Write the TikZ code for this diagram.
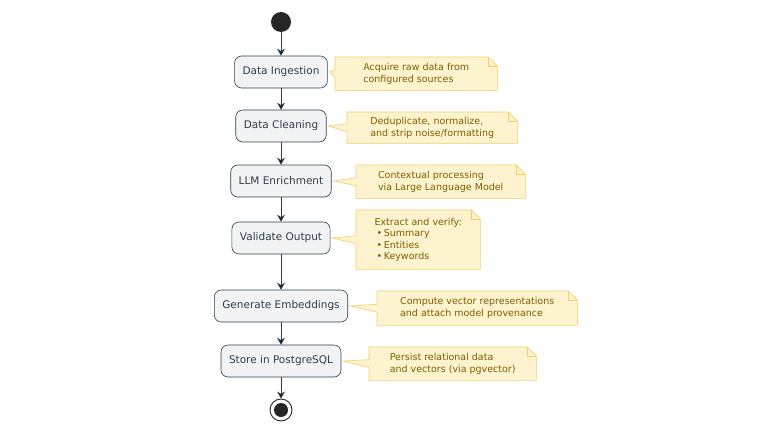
\documentclass[tikz,border=0pt]{standalone}
\usepackage{fontspec}
\setmainfont{DejaVu Sans}
\usetikzlibrary{arrows.meta,positioning,calc,backgrounds}
\definecolor{actfill}{HTML}{F1F3F4}
\definecolor{actline}{HTML}{2C3E50}
\definecolor{notefill}{HTML}{FDF3CF}
\definecolor{noteline}{HTML}{F2CF6B}
\definecolor{notetext}{HTML}{7D6000}
\begin{document}
\begin{tikzpicture}[x=1pt,y=-1pt,->,>={Stealth[length=7pt,width=8pt]},
  act/.style={rectangle,rounded corners=7pt,fill=actfill,draw=actline,line width=0.6pt,
    minimum height=32pt,inner xsep=8pt,font=\fontsize{10.5}{12}\selectfont,text=actline},
  note/.style={align=left,anchor=north west,inner xsep=6pt,inner ysep=5pt,
    font=\fontsize{9.5}{12}\selectfont,text=notetext},
  flow/.style={draw=actline,line width=0.9pt}]

\useasboundingbox (0,0) rectangle (784,441);

%start and end
\node[circle,fill=black!85,minimum size=20pt,inner sep=0pt] (start) at (281,22) {};
\node[circle,draw=black!85,line width=0.9pt,minimum size=22pt,inner sep=0pt] (stop) at (281,410) {};
\node[circle,fill=black!85,minimum size=14pt,inner sep=0pt] (stopdot) at (stop) {};

%activities
\node[act] (ingest) at (281,72) {Data Ingestion};
\node[act] (clean) at (281,126) {Data Cleaning};
\node[act] (enrich) at (281,181) {LLM Enrichment};
\node[act] (valid) at (281,238) {Validate Output};
\node[act] (embed) at (281,306) {Generate Embeddings};
\node[act] (store) at (281,361) {Store in PostgreSQL};

%notes
\node[note,minimum width=162pt,minimum height=33pt] (n1) at (335,57) {Acquire raw data from\\configured sources};
\node[note,minimum width=170pt,minimum height=31pt] (n2) at (347,112) {Deduplicate, normalize,\\and strip noise/formatting};
\node[note,minimum width=169pt,minimum height=33pt] (n3) at (356,165) {Contextual processing\\via Large Language Model};
\node[note,minimum width=124pt,minimum height=59pt,font=\fontsize{9.5}{11.5}\selectfont] (n4) at (356,210) {Extract and verify:\\
  \hspace*{2pt}\textbullet\,Summary\\\hspace*{2pt}\textbullet\,Entities\\\hspace*{2pt}\textbullet\,Keywords};
\node[note,minimum width=200pt,minimum height=34pt] (n5) at (377,291) {Compute vector representations\\and attach model provenance};
\node[note,minimum width=167pt,minimum height=33pt] (n6) at (369,347) {Persist relational data\\and vectors (via pgvector)};

\begin{scope}[on background layer]
\foreach \n/\a in {n1/ingest,n2/clean,n3/enrich,n4/valid,n5/embed,n6/store}{
  \fill[notefill,draw=noteline,line width=0.6pt,-]
    (\n.north west) -- ($(\n.north east)+(-9,0)$) -- ($(\n.north east)+(0,9)$)
    -- (\n.south east) -- (\n.south west) -- ($(\n.west)+(0,4)$)
    -- ($(\a.east)+(2,0)$) -- ($(\n.west)+(0,-4)$) -- cycle;
  \draw[noteline,line width=0.6pt,-] ($(\n.north east)+(-9,0)$) -- ($(\n.north east)+(-9,9)$) -- ($(\n.north east)+(0,9)$);
}
\end{scope}

%flow
\path[flow] (start) edge (ingest);
\path[flow] (ingest) edge (clean);
\path[flow] (clean) edge (enrich);
\path[flow] (enrich) edge (valid);
\path[flow] (valid) edge (embed);
\path[flow] (embed) edge (store);
\path[flow] (store) edge (stop);
\end{tikzpicture}
\end{document}
